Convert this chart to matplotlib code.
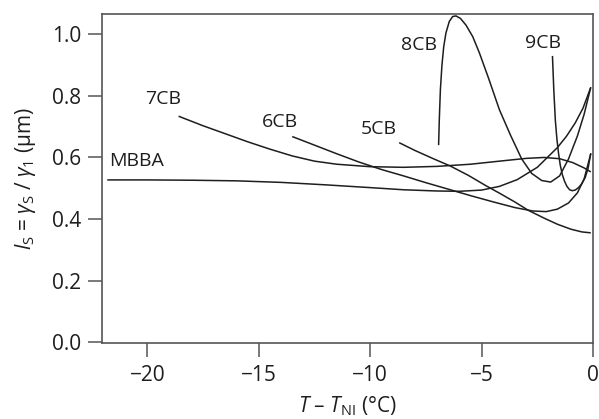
import matplotlib
matplotlib.use('Agg')
import matplotlib.pyplot as plt

plt.rcParams['font.family'] = ['Open Sans', 'DejaVu Sans']
plt.rcParams['mathtext.fontset'] = 'custom'
plt.rcParams['mathtext.rm'] = 'Open Sans'
plt.rcParams['mathtext.it'] = 'Open Sans:italic'

# curves (x = T - T_NI in degC, y = l_S in um)
mbba_x = [-21.8, -20, -18, -16, -14, -12, -10, -8.5, -7, -6, -5, -4.2, -3.4,
          -2.5, -1.6, -1.2, -0.8, -0.45, -0.1]
mbba_y = [0.527, 0.527, 0.526, 0.524, 0.519, 0.511, 0.502, 0.495, 0.491,
          0.490, 0.494, 0.506, 0.528, 0.568, 0.632, 0.668, 0.712, 0.76, 0.828]

cb7_x = [-18.6, -17.5, -16.5, -15.5, -14.5, -13.5, -12.5, -11.5, -10, -8.5,
         -7, -5.5, -4.2, -3, -2.2, -1.5, -0.9, -0.4, -0.1]
cb7_y = [0.734, 0.703, 0.677, 0.651, 0.627, 0.605, 0.588, 0.578, 0.570,
         0.568, 0.571, 0.578, 0.588, 0.597, 0.600, 0.596, 0.583, 0.566, 0.553]

cb6_x = [-13.5, -12.5, -11.5, -10.5, -9.5, -8.5, -7.5, -6.5, -5.5, -4.5,
         -3.5, -2.7, -2.1, -1.6, -1.1, -0.7, -0.4, -0.1]
cb6_y = [0.668, 0.640, 0.612, 0.585, 0.561, 0.540, 0.518, 0.497, 0.476,
         0.456, 0.437, 0.426, 0.424, 0.432, 0.452, 0.485, 0.53, 0.612]

cb5_x = [-8.7, -8, -7.2, -6.4, -5.6, -4.8, -4.2, -3.5, -2.9, -2.2, -1.6,
         -1.0, -0.5, -0.1]
cb5_y = [0.648, 0.623, 0.597, 0.572, 0.542, 0.508, 0.484, 0.455, 0.428,
         0.403, 0.383, 0.367, 0.358, 0.355]

cb8_x = [-6.93, -6.9, -6.85, -6.78, -6.7, -6.6, -6.45, -6.3, -6.15, -5.95,
         -5.7, -5.4, -5.1, -4.7, -4.2, -3.7, -3.2, -2.75, -2.3, -1.9, -1.5,
         -1.1, -0.7, -0.4, -0.1]
cb8_y = [0.640, 0.72, 0.82, 0.90, 0.96, 1.005, 1.042, 1.058, 1.060, 1.052,
         1.030, 0.993, 0.94, 0.86, 0.755, 0.672, 0.595, 0.548, 0.525, 0.52,
         0.54, 0.595, 0.67, 0.74, 0.828]

cb9_x = [-1.82, -1.76, -1.69, -1.62, -1.55, -1.47, -1.38, -1.28, -1.17, -1.05,
         -0.93, -0.8, -0.65, -0.5, -0.35, -0.22, -0.1]
cb9_y = [0.93, 0.82, 0.72, 0.66, 0.615, 0.575, 0.545, 0.523, 0.506, 0.495,
         0.492, 0.494, 0.502, 0.515, 0.535, 0.565, 0.614]

names = ['MBBA', '7CB', '6CB', '5CB', '8CB', '9CB']
label_x = [-20.5, -19.3, -14.07, -9.6, -7.82, -2.23]
label_y = [0.59, 0.789, 0.716, 0.692, 0.966, 0.971]

series = [(mbba_x, mbba_y), (cb7_x, cb7_y), (cb6_x, cb6_y),
          (cb5_x, cb5_y), (cb8_x, cb8_y), (cb9_x, cb9_y)]

fig = plt.figure(figsize=(5.99, 4.19), dpi=100)
ax = fig.add_axes([0.1698, 0.1814, 0.8202, 0.785])

for (x, y) in series:
    ax.plot(x, y, color='#1e1e1e', lw=1.1, solid_capstyle='butt')

for n, lx, ly in zip(names, label_x, label_y):
    ax.text(lx, ly, n, fontsize=14, ha='center', va='center', color='#1e1e1e')

ax.set_xlim(-22.05, 0)
ax.set_ylim(-0.003, 1.066)
ax.set_xticks([-20, -15, -10, -5, 0])
ax.set_yticks([0.0, 0.2, 0.4, 0.6, 0.8, 1.0])
ax.set_yticklabels(['0.0', '0.2', '0.4', '0.6', '0.8', '1.0'])
ax.tick_params(direction='out', length=10, width=1.1, color='#555555',
               labelsize=15, pad=5, labelcolor='#1e1e1e')
ax.tick_params(axis='x', pad=6)
for d in ['left', 'top', 'bottom', 'right']:
    ax.spines[d].set_color('#555555')
    ax.spines[d].set_linewidth(1.2)

ax.set_xlabel(r'$T$ – $T_{\mathrm{NI}}$ (°C)', fontsize=15, labelpad=6,
              color='#1e1e1e')
ax.set_ylabel(r'$l_{\mathrm{S}}$ = $\gamma_{\mathrm{S}}$ / $\gamma_1$ (μm)',
              fontsize=15, labelpad=10, color='#1e1e1e')

fig.savefig('out.png', dpi=100)
